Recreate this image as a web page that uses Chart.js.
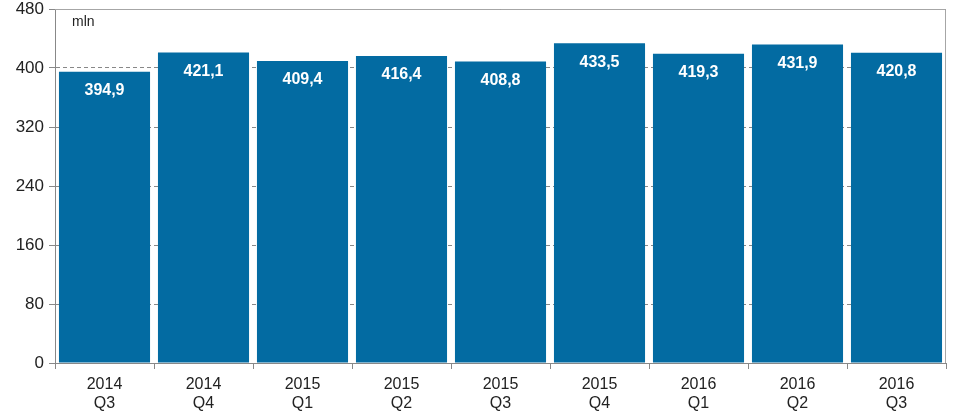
<!DOCTYPE html>
<html>
<head>
<meta charset="utf-8">
<script src="https://cdn.jsdelivr.net/npm/chart.js@4/dist/chart.umd.min.js"></script>
<style>
  html, body { margin: 0; padding: 0; background: #fff; }
  #wrap { width: 961px; height: 415px; }
</style>
</head>
<body>
<div id="wrap"><canvas id="bar-chart"></canvas></div>
<script>
// ----------------- data -----------------
var years = ['2014', '2014', '2015', '2015', '2015', '2015', '2016', '2016', '2016'];
var quarters = ['Q3', 'Q4', 'Q1', 'Q2', 'Q3', 'Q4', 'Q1', 'Q2', 'Q3'];
var values = [394.9, 421.1, 409.4, 416.4, 408.8, 433.5, 419.3, 431.9, 420.8];
var yTicks = [0, 80, 160, 240, 320, 400, 480];

var labels = years.map(function (y, i) { return [y, quarters[i]]; });

// value labels inside bars + unit + plot box
var extras = {
  id: 'extras',
  afterDatasetsDraw: function (chart) {
    var ctx = chart.ctx;
    var area = chart.chartArea;
    var meta = chart.getDatasetMeta(0);
    ctx.save();
    ctx.fillStyle = '#fff';
    ctx.font = 'bold 16px "Liberation Sans", Arial, sans-serif';
    ctx.textAlign = 'center';
    ctx.textBaseline = 'middle';
    meta.data.forEach(function (bar, i) {
      ctx.fillText(values[i].toFixed(1).replace('.', ','), bar.x, bar.y + 19);
    });
    ctx.fillStyle = '#222';
    ctx.font = '14px "Liberation Sans", Arial, sans-serif';
    ctx.textAlign = 'left';
    ctx.fillText('mln', area.left + 17, area.top + 13);
    ctx.strokeStyle = '#a6a6a6';
    ctx.lineWidth = 1;
    ctx.beginPath();
    ctx.moveTo(area.left, area.top + 0.5);
    ctx.lineTo(area.right - 0.5, area.top + 0.5);
    ctx.lineTo(area.right - 0.5, area.bottom);
    ctx.stroke();
    ctx.restore();
  }
};

var options = {
  type: 'bar',
  data: {
    labels: labels,
    datasets: [{
      data: values,
      backgroundColor: '#036ba2',
      barPercentage: 0.92,
      categoryPercentage: 1
    }]
  },
  options: {
    responsive: true,
    maintainAspectRatio: false,
    animation: false,
    layout: { padding: { top: 9, right: 15, left: 0, bottom: 0 } },
    plugins: {
      legend: { display: false },
      tooltip: { enabled: false }
    },
    scales: {
      x: {
        grid: { offset: true, drawOnChartArea: false, tickLength: 6, color: '#888' },
        border: { color: '#888' },
        ticks: {
          color: '#222',
          font: { family: '"Liberation Sans", Arial, sans-serif', size: 16 },
          maxRotation: 0,
          padding: 6
        },
        afterFit: function (s) { s.height = 52; s.paddingLeft = 0; s.paddingRight = 0; }
      },
      y: {
        min: 0,
        max: 480,
        afterBuildTicks: function (s) { s.ticks = yTicks.map(function (v) { return { value: v }; }); },
        grid: { color: '#888', tickLength: 6 },
        border: { color: '#888', dash: [4, 3] },
        ticks: {
          color: '#222',
          font: { family: '"Liberation Sans", Arial, sans-serif', size: 17 },
          padding: 5
        },
        afterFit: function (s) { s.width = 55; s.paddingTop = 0; s.paddingBottom = 0; }
      }
    }
  },
  plugins: [extras]
};

var chart = new Chart(document.getElementById('bar-chart'), options);
</script>
</body>
</html>
